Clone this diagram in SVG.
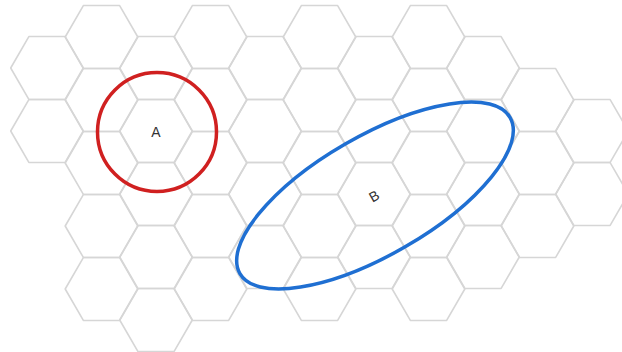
<svg xmlns="http://www.w3.org/2000/svg" xmlns:xlink="http://www.w3.org/1999/xlink" width="622" height="352" viewBox="0 0 622 352">
<style>
.hex{fill:none;stroke:#d6d6d6;stroke-width:1.6;stroke-linejoin:round}
.lbl{font-family:"Liberation Sans",Arial,sans-serif;font-size:14px;fill:#333;text-anchor:middle;dominant-baseline:central}
</style>
<defs>
<polygon id="h" class="hex" points="-36.3,0 -18.15,-31.45 18.15,-31.45 36.3,0 18.15,31.45 -18.15,31.45"/>
</defs>
<rect width="622" height="352" fill="#fff"/>
<g id="grid">
<use xlink:href="#h" x="47" y="68"/><use xlink:href="#h" x="47" y="131"/>
<use xlink:href="#h" x="101.5" y="37"/><use xlink:href="#h" x="101.5" y="100"/><use xlink:href="#h" x="101.5" y="163"/><use xlink:href="#h" x="101.5" y="226"/><use xlink:href="#h" x="101.5" y="289"/>
<use xlink:href="#h" x="156" y="68"/><use xlink:href="#h" x="156" y="131"/><use xlink:href="#h" x="156" y="194"/><use xlink:href="#h" x="156" y="257"/><use xlink:href="#h" x="156" y="320"/>
<use xlink:href="#h" x="210.5" y="37"/><use xlink:href="#h" x="210.5" y="100"/><use xlink:href="#h" x="210.5" y="163"/><use xlink:href="#h" x="210.5" y="226"/><use xlink:href="#h" x="210.5" y="289"/>
<use xlink:href="#h" x="265" y="68"/><use xlink:href="#h" x="265" y="131"/><use xlink:href="#h" x="265" y="194"/><use xlink:href="#h" x="265" y="257"/>
<use xlink:href="#h" x="319.5" y="37"/><use xlink:href="#h" x="319.5" y="100"/><use xlink:href="#h" x="319.5" y="163"/><use xlink:href="#h" x="319.5" y="226"/><use xlink:href="#h" x="319.5" y="289"/>
<use xlink:href="#h" x="374" y="68"/><use xlink:href="#h" x="374" y="131"/><use xlink:href="#h" x="374" y="194"/><use xlink:href="#h" x="374" y="257"/>
<use xlink:href="#h" x="428.5" y="37"/><use xlink:href="#h" x="428.5" y="100"/><use xlink:href="#h" x="428.5" y="163"/><use xlink:href="#h" x="428.5" y="226"/><use xlink:href="#h" x="428.5" y="289"/>
<use xlink:href="#h" x="483" y="68"/><use xlink:href="#h" x="483" y="131"/><use xlink:href="#h" x="483" y="194"/><use xlink:href="#h" x="483" y="257"/>
<use xlink:href="#h" x="537.5" y="100"/><use xlink:href="#h" x="537.5" y="163"/><use xlink:href="#h" x="537.5" y="226"/>
<use xlink:href="#h" x="592" y="131"/><use xlink:href="#h" x="592" y="194"/>
</g>
<g id="nodeA">
<circle cx="157" cy="132" r="59.5" fill="none" stroke="#d02020" stroke-width="3.5"/>
<text class="lbl" x="156" y="132">A</text>
</g>
<g id="nodeB">
<ellipse cx="375" cy="195.5" rx="156" ry="59.5" fill="none" stroke="#1f6fd2" stroke-width="3.5" transform="rotate(-30 375 195.5)"/>
<text class="lbl" x="374" y="196" transform="rotate(-30 374 196)">B</text>
</g>
</svg>
